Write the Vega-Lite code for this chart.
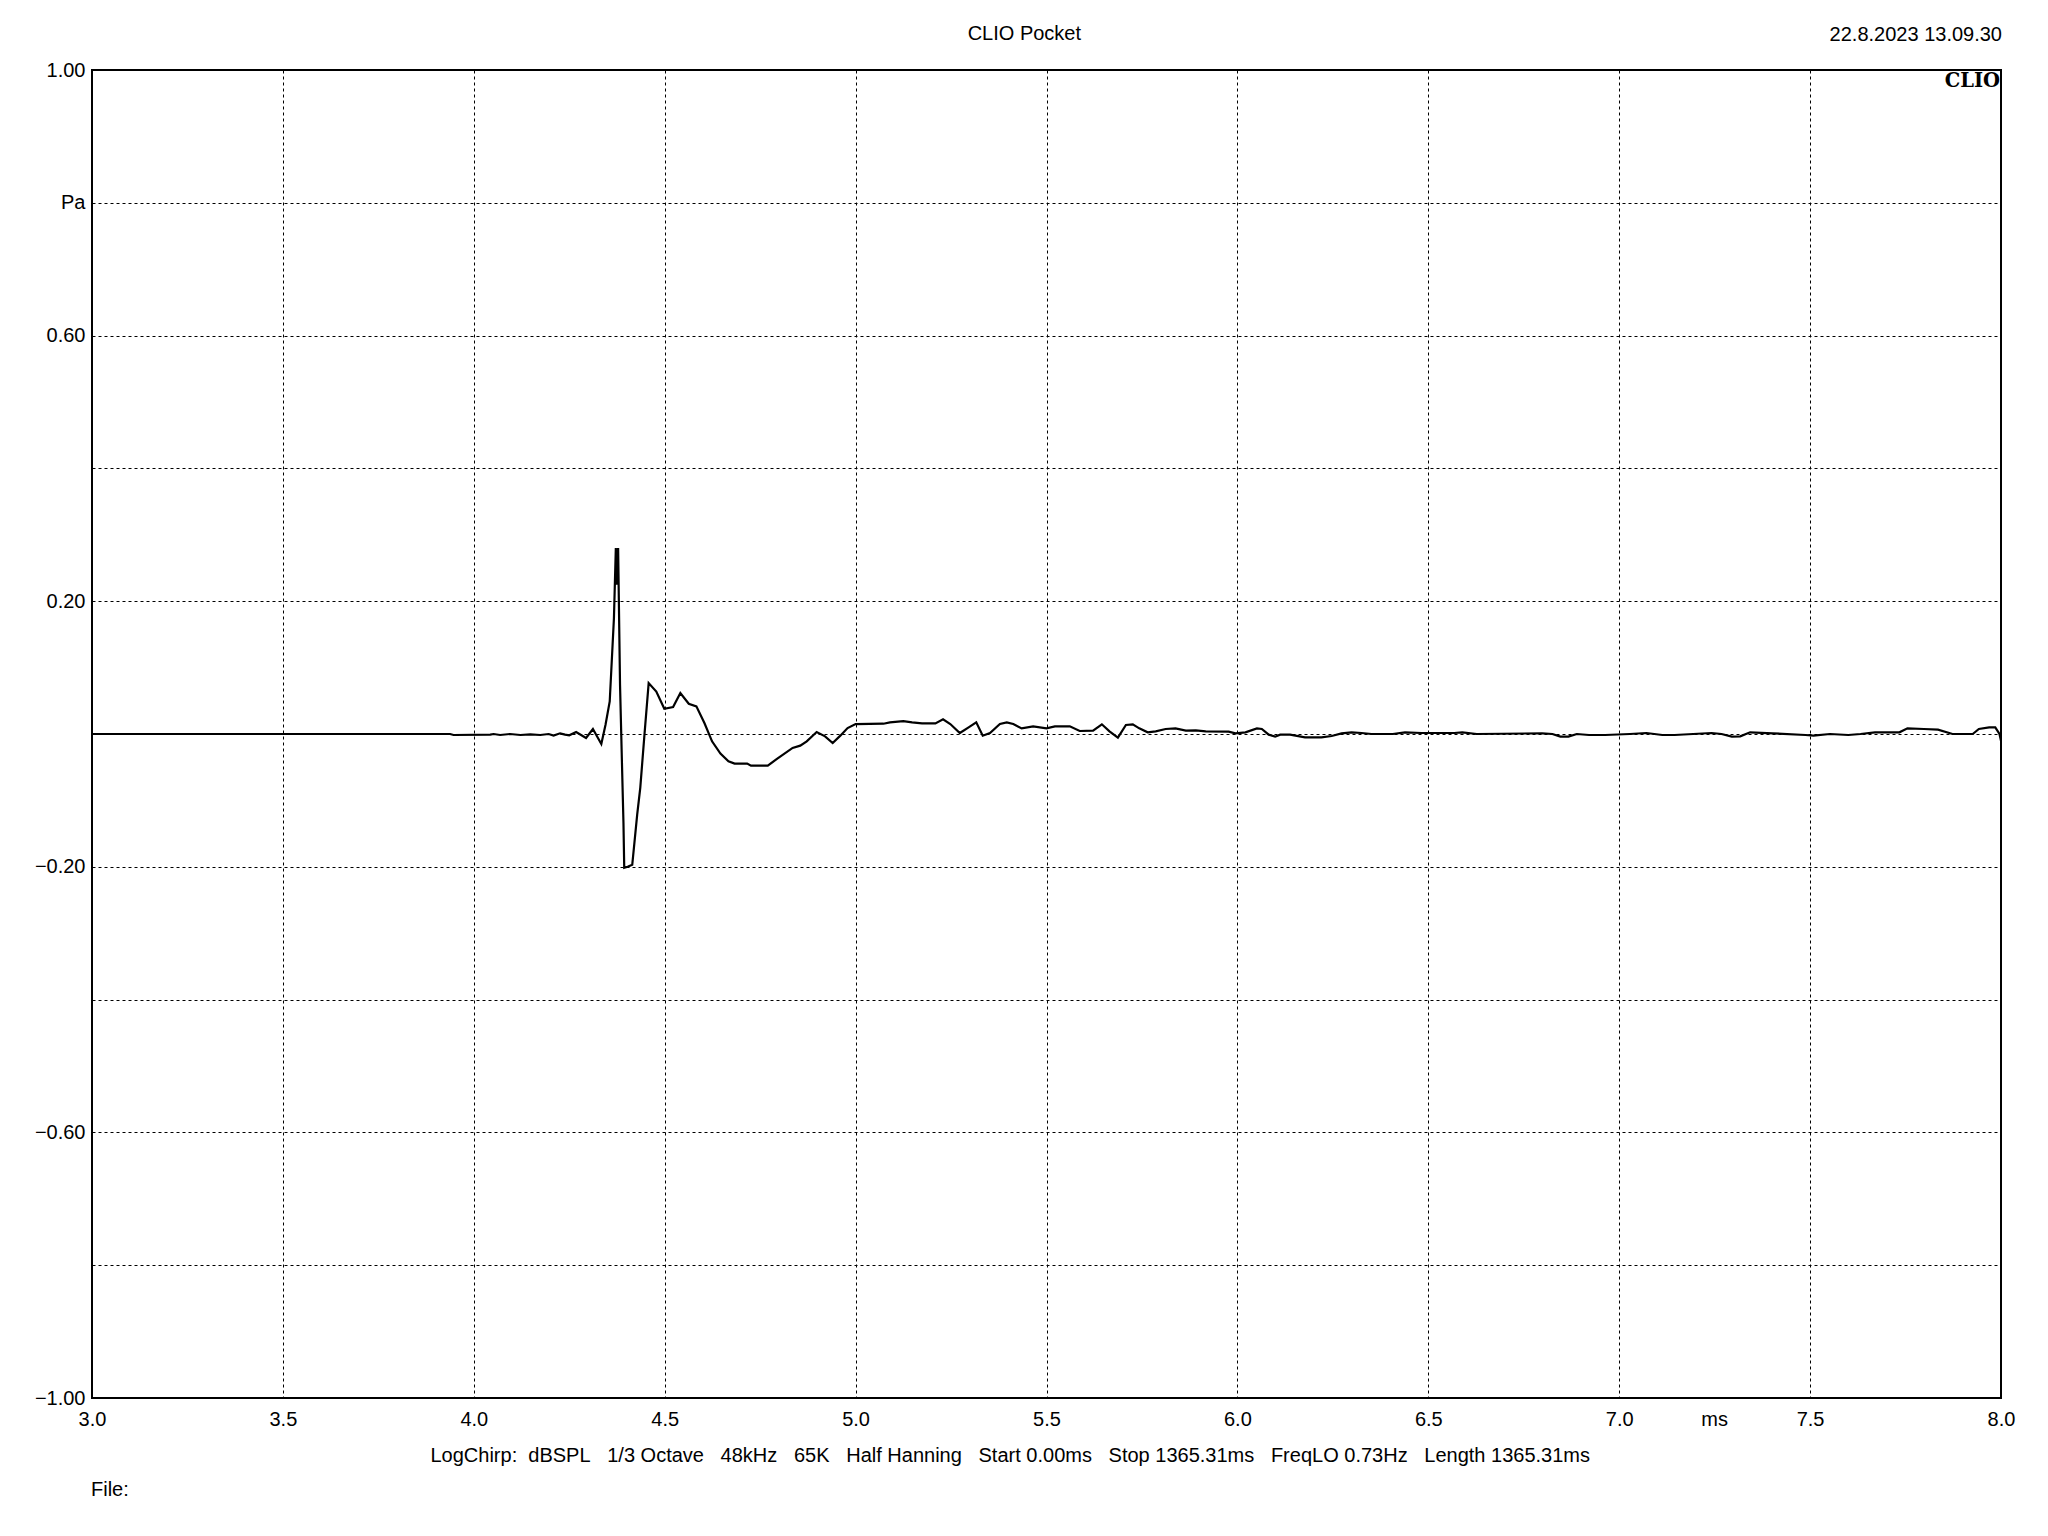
{
  "$schema": "https://vega.github.io/schema/vega-lite/v6.json",
  "width": 1909,
  "height": 1328,
  "autosize": {"type": "none"},
  "padding": {"left": 92, "top": 70, "right": 47, "bottom": 138},
  "background": "white",
  "config": {
    "view": {"stroke": "black", "strokeWidth": 2},
    "font": "Liberation Sans",
    "axis": {
      "domain": false,
      "ticks": false,
      "grid": true,
      "gridColor": "black",
      "gridDash": [3, 3],
      "gridWidth": 1,
      "gridOpacity": 1,
      "labelFont": "Liberation Sans",
      "labelFontSize": 20,
      "labelColor": "black",
      "labelFlush": false,
      "labelOverlap": false,
      "title": null
    }
  },
  "data": {
    "values": [
      {"t": 3.0, "p": 0}, {"t": 3.938, "p": 0}, {"t": 3.947, "p": -0.0015}, {"t": 4.043, "p": -0.001},
      {"t": 4.052, "p": 0}, {"t": 4.069, "p": -0.0015}, {"t": 4.095, "p": 0}, {"t": 4.122, "p": -0.0015},
      {"t": 4.148, "p": -0.0005}, {"t": 4.174, "p": -0.0015}, {"t": 4.196, "p": 0}, {"t": 4.209, "p": -0.0025},
      {"t": 4.226, "p": 0.001}, {"t": 4.239, "p": -0.001}, {"t": 4.25, "p": -0.002}, {"t": 4.268, "p": 0.003},
      {"t": 4.294, "p": -0.006}, {"t": 4.312, "p": 0.0075}, {"t": 4.334, "p": -0.015}, {"t": 4.345, "p": 0.014},
      {"t": 4.356, "p": 0.049}, {"t": 4.367, "p": 0.174}, {"t": 4.372, "p": 0.28}, {"t": 4.375, "p": 0.225},
      {"t": 4.378, "p": 0.28}, {"t": 4.383, "p": 0.074}, {"t": 4.389, "p": -0.066}, {"t": 4.392, "p": -0.134},
      {"t": 4.394, "p": -0.2015}, {"t": 4.403, "p": -0.2}, {"t": 4.415, "p": -0.197}, {"t": 4.428, "p": -0.121},
      {"t": 4.436, "p": -0.081}, {"t": 4.447, "p": -0.001}, {"t": 4.458, "p": 0.0767}, {"t": 4.478, "p": 0.064},
      {"t": 4.499, "p": 0.038}, {"t": 4.522, "p": 0.0406}, {"t": 4.541, "p": 0.0617}, {"t": 4.563, "p": 0.0456},
      {"t": 4.583, "p": 0.0416}, {"t": 4.604, "p": 0.0165}, {"t": 4.624, "p": -0.011}, {"t": 4.646, "p": -0.0296},
      {"t": 4.667, "p": -0.041}, {"t": 4.683, "p": -0.0446}, {"t": 4.716, "p": -0.0446}, {"t": 4.726, "p": -0.0476},
      {"t": 4.77, "p": -0.0476}, {"t": 4.794, "p": -0.0376}, {"t": 4.835, "p": -0.021}, {"t": 4.855, "p": -0.0175},
      {"t": 4.872, "p": -0.011}, {"t": 4.898, "p": 0.003}, {"t": 4.92, "p": -0.0035}, {"t": 4.94, "p": -0.0135},
      {"t": 4.96, "p": -0.0025}, {"t": 4.979, "p": 0.009}, {"t": 5.0, "p": 0.015}, {"t": 5.073, "p": 0.0155},
      {"t": 5.09, "p": 0.0175}, {"t": 5.125, "p": 0.0195}, {"t": 5.148, "p": 0.0176}, {"t": 5.174, "p": 0.016},
      {"t": 5.209, "p": 0.016}, {"t": 5.229, "p": 0.022}, {"t": 5.248, "p": 0.015}, {"t": 5.273, "p": 0.0015},
      {"t": 5.296, "p": 0.01}, {"t": 5.316, "p": 0.0176}, {"t": 5.333, "p": -0.0025}, {"t": 5.352, "p": 0.0015},
      {"t": 5.378, "p": 0.015}, {"t": 5.396, "p": 0.0176}, {"t": 5.413, "p": 0.015}, {"t": 5.435, "p": 0.0085},
      {"t": 5.465, "p": 0.0115}, {"t": 5.5, "p": 0.0085}, {"t": 5.522, "p": 0.0115}, {"t": 5.561, "p": 0.0115},
      {"t": 5.587, "p": 0.0045}, {"t": 5.622, "p": 0.005}, {"t": 5.645, "p": 0.0146}, {"t": 5.665, "p": 0.004},
      {"t": 5.687, "p": -0.0055}, {"t": 5.708, "p": 0.0136}, {"t": 5.726, "p": 0.0146}, {"t": 5.743, "p": 0.0085},
      {"t": 5.765, "p": 0.0025}, {"t": 5.786, "p": 0.004}, {"t": 5.812, "p": 0.0075}, {"t": 5.838, "p": 0.0085},
      {"t": 5.865, "p": 0.005}, {"t": 5.891, "p": 0.0055}, {"t": 5.917, "p": 0.004}, {"t": 5.977, "p": 0.0035},
      {"t": 5.995, "p": 0.001}, {"t": 6.021, "p": 0.0025}, {"t": 6.051, "p": 0.0085}, {"t": 6.064, "p": 0.0075},
      {"t": 6.082, "p": -0.001}, {"t": 6.099, "p": -0.004}, {"t": 6.112, "p": -0.001}, {"t": 6.138, "p": -0.001},
      {"t": 6.177, "p": -0.005}, {"t": 6.22, "p": -0.005}, {"t": 6.247, "p": -0.003}, {"t": 6.273, "p": 0.001},
      {"t": 6.299, "p": 0.0025}, {"t": 6.325, "p": 0.0015}, {"t": 6.351, "p": 0}, {"t": 6.407, "p": 0},
      {"t": 6.439, "p": 0.0025}, {"t": 6.482, "p": 0.0015}, {"t": 6.568, "p": 0.0015}, {"t": 6.589, "p": 0.0025},
      {"t": 6.627, "p": 0}, {"t": 6.798, "p": 0.001}, {"t": 6.825, "p": 0}, {"t": 6.846, "p": -0.004},
      {"t": 6.867, "p": -0.004}, {"t": 6.889, "p": 0}, {"t": 6.921, "p": -0.0015}, {"t": 6.963, "p": -0.0015},
      {"t": 7.028, "p": 0}, {"t": 7.071, "p": 0.0015}, {"t": 7.113, "p": -0.0015}, {"t": 7.145, "p": -0.0015},
      {"t": 7.242, "p": 0.0015}, {"t": 7.268, "p": 0}, {"t": 7.295, "p": -0.004}, {"t": 7.317, "p": -0.0035},
      {"t": 7.343, "p": 0.0025}, {"t": 7.402, "p": 0.001}, {"t": 7.488, "p": -0.0015}, {"t": 7.509, "p": -0.0025},
      {"t": 7.552, "p": 0}, {"t": 7.6, "p": -0.0015}, {"t": 7.632, "p": 0}, {"t": 7.67, "p": 0.0025},
      {"t": 7.734, "p": 0.0025}, {"t": 7.755, "p": 0.0085}, {"t": 7.798, "p": 0.0075}, {"t": 7.835, "p": 0.0065},
      {"t": 7.873, "p": 0}, {"t": 7.926, "p": 0}, {"t": 7.942, "p": 0.0075}, {"t": 7.969, "p": 0.01},
      {"t": 7.985, "p": 0.01}, {"t": 7.996, "p": 0}, {"t": 8.0, "p": -0.01}
    ]
  },
  "layer": [
    {
      "mark": {"type": "line", "color": "black", "strokeWidth": 2.2, "clip": true},
      "encoding": {
        "x": {
          "field": "t", "type": "quantitative",
          "scale": {"domain": [3, 8], "nice": false, "zero": false},
          "axis": {"values": [3, 3.5, 4, 4.5, 5, 5.5, 6, 6.5, 7, 7.5, 8], "format": ".1f", "labelPadding": 11}
        },
        "y": {
          "field": "p", "type": "quantitative",
          "scale": {"domain": [-1, 1], "nice": false, "zero": false},
          "axis": {
            "values": [-1, -0.8, -0.6, -0.4, -0.2, 0, 0.2, 0.4, 0.6, 0.8, 1],
            "labelPadding": 7,
            "labelExpr": "abs(datum.value - 0.8) < 0.01 ? 'Pa' : ((abs(abs(datum.value) - 0.4) < 0.01 || abs(datum.value) < 0.01 || abs(datum.value + 0.8) < 0.01) ? '' : format(datum.value, '.2f'))"
          }
        }
      }
    },
    {
      "data": {"values": [{}]},
      "mark": {"type": "text", "text": "CLIO Pocket", "align": "center", "baseline": "middle", "dy": -36, "fontSize": 20, "font": "Liberation Sans", "color": "black"},
      "encoding": {"x": {"datum": 5.442}, "y": {"datum": 1}}
    },
    {
      "data": {"values": [{}]},
      "mark": {"type": "text", "text": "22.8.2023 13.09.30", "align": "right", "baseline": "middle", "dy": -35, "dx": 1, "fontSize": 20, "font": "Liberation Sans", "color": "black"},
      "encoding": {"x": {"datum": 8}, "y": {"datum": 1}}
    },
    {
      "data": {"values": [{}]},
      "mark": {"type": "text", "text": "CLIO", "align": "right", "baseline": "top", "dy": 2, "dx": -1, "fontSize": 19.5, "font": "DejaVu Serif", "fontWeight": "bold", "color": "black"},
      "encoding": {"x": {"datum": 8}, "y": {"datum": 1}}
    },
    {
      "data": {"values": [{}]},
      "mark": {"type": "text", "text": "ms", "align": "center", "baseline": "middle", "dy": 22, "fontSize": 20, "font": "Liberation Sans", "color": "black"},
      "encoding": {"x": {"datum": 7.25}, "y": {"datum": -1}}
    },
    {
      "data": {"values": [{}]},
      "mark": {"type": "text", "text": "LogChirp:\u00a0\u00a0dBSPL\u00a0\u00a0\u00a01/3 Octave\u00a0\u00a0\u00a048kHz\u00a0\u00a0\u00a065K\u00a0\u00a0\u00a0Half Hanning\u00a0\u00a0\u00a0Start 0.00ms\u00a0\u00a0\u00a0Stop 1365.31ms\u00a0\u00a0\u00a0FreqLO 0.73Hz\u00a0\u00a0\u00a0Length 1365.31ms", "align": "center", "baseline": "middle", "dy": 58, "fontSize": 20, "font": "Liberation Sans", "color": "black"},
      "encoding": {"x": {"datum": 5.405}, "y": {"datum": -1}}
    },
    {
      "data": {"values": [{}]},
      "mark": {"type": "text", "text": "File:", "align": "left", "baseline": "middle", "dy": 92, "dx": -1, "fontSize": 20, "font": "Liberation Sans", "color": "black"},
      "encoding": {"x": {"datum": 3}, "y": {"datum": -1}}
    }
  ]
}
